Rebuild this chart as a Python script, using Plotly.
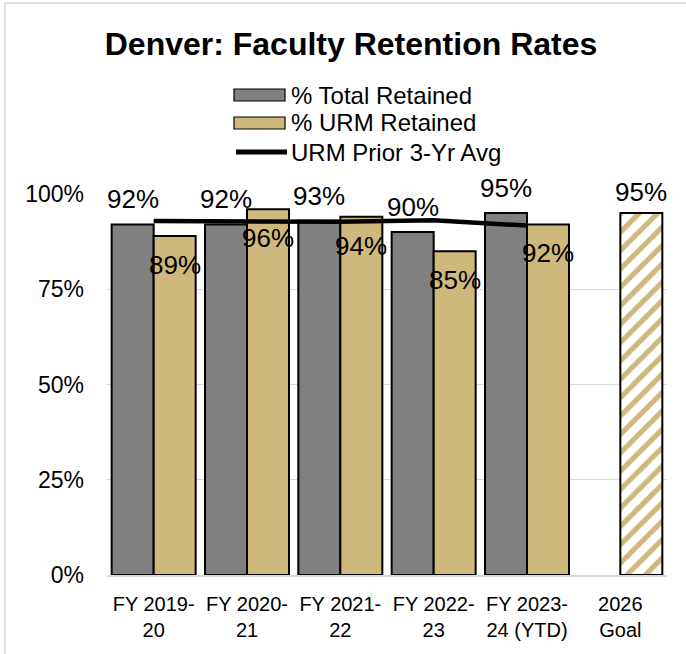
"""Denver faculty retention rates: grouped bars, prior 3-yr avg line, hatched goal bar."""

import plotly.graph_objects as go

CATEGORIES = ["FY 2019-<br>20", "FY 2020-<br>21", "FY 2021-<br>22", "FY 2022-<br>23",
              "FY 2023-<br>24 (YTD)", "2026<br>Goal"]
TOTAL_RETAINED = [92, 92, 93, 90, 95]
URM_RETAINED = [89, 96, 94, 85, 92]
URM_PRIOR_AVG = [92.9, 92.9, 92.7, 93.1, 91.7]
GOAL = [95]

GREY = "#808080"
GOLD = "#CFB87C"
FONT = "Arial, Liberation Sans, sans-serif"

x_years = list(range(len(TOTAL_RETAINED)))
x_goal = [len(TOTAL_RETAINED)]
bar_w = 0.45
outline = dict(color="black", width=2)

fig = go.Figure()
fig.add_trace(go.Bar(x=x_years, y=TOTAL_RETAINED, name="% Total Retained",
                     offset=-bar_w, width=bar_w, marker=dict(color=GREY, line=outline)))
fig.add_trace(go.Bar(x=x_years, y=URM_RETAINED, name="% URM Retained",
                     offset=0, width=bar_w, marker=dict(color=GOLD, line=outline)))
fig.add_trace(go.Bar(x=x_goal, y=GOAL, name="Goal", offset=0, width=bar_w,
                     marker=dict(color="white", line=outline,
                                 pattern=dict(shape="/", fgcolor=GOLD, bgcolor="white",
                                              fgopacity=1, size=13, solidity=0.4))))
fig.add_trace(go.Scatter(x=x_years, y=URM_PRIOR_AVG, name="URM Prior 3-Yr Avg",
                         mode="lines", line=dict(color="black", width=4.5)))

label_font = dict(family=FONT, size=26, color="black")
for i, v in enumerate(TOTAL_RETAINED):
    fig.add_annotation(x=i - bar_w / 2, y=v, text=f"{v}%", showarrow=False,
                       yanchor="middle", yshift=25, font=label_font)
for i, v in enumerate(URM_RETAINED):
    fig.add_annotation(x=i + bar_w / 2, y=v, text=f"{v}%", showarrow=False,
                       yanchor="middle", yshift=-29, font=label_font)
for i, v in zip(x_goal, GOAL):
    fig.add_annotation(x=i + bar_w / 2, y=v, text=f"{v}%", showarrow=False,
                       yanchor="middle", yshift=21, font=label_font)

# hand-drawn legend (wide swatches like the original)
legend_items = [("% Total Retained", GREY, 95), ("% URM Retained", GOLD, 123)]
W, H = 686, 654
L, R, T, B = 107, 19, 194, 79
pw, ph = W - L - R, H - T - B


def px(x):
    return (x - L) / pw


def py(y):
    return (H - B - y) / ph


shapes = []
for text, color, yc in legend_items:
    shapes.append(dict(type="rect", xref="paper", yref="paper",
                       x0=px(234), x1=px(285), y0=py(yc + 6), y1=py(yc - 6),
                       fillcolor=color, line=dict(color="black", width=1.2)))
    fig.add_annotation(xref="paper", yref="paper", x=px(289), y=py(yc), text=text,
                       showarrow=False, xanchor="left", yanchor="middle",
                       font=dict(family=FONT, size=24, color="black"))
shapes.append(dict(type="line", xref="paper", yref="paper",
                   x0=px(236), x1=px(287), y0=py(152), y1=py(152),
                   line=dict(color="black", width=5)))
fig.add_annotation(xref="paper", yref="paper", x=px(289), y=py(152),
                   text="URM Prior 3-Yr Avg", showarrow=False, xanchor="left",
                   yanchor="middle", font=dict(family=FONT, size=24, color="black"))
# light frame around the chart
shapes.append(dict(type="rect", xref="paper", yref="paper", layer="below",
                   x0=px(5), x1=px(700), y0=py(665), y1=py(3),
                   line=dict(color="#d9d9d9", width=1.5)))

fig.update_layout(
    width=W, height=H,
    margin=dict(l=L, r=R, t=T, b=B, autoexpand=False),
    paper_bgcolor="white", plot_bgcolor="white",
    barmode="overlay", showlegend=False,
    title=dict(text="<b>Denver: Faculty Retention Rates</b>", x=351 / W, xref="container",
               y=1 - 44 / H, yref="container", xanchor="center", yanchor="middle",
               font=dict(family=FONT, size=32, color="black")),
    font=dict(family=FONT, color="black"),
    shapes=shapes,
)
fig.update_xaxes(range=[-0.5, 5.5], tickmode="array", tickvals=list(range(6)),
                 ticktext=CATEGORIES, showgrid=False, zeroline=False,
                 showline=True, linecolor="#d9d9d9", linewidth=1.5, automargin=False,
                 tickfont=dict(size=20, color="black"), ticks="", ticklabelstandoff=10)
fig.update_yaxes(range=[0, 100], dtick=25, ticksuffix="%", showgrid=True,
                 gridcolor="#d9d9d9", gridwidth=1.2, zeroline=False, automargin=False,
                 tickfont=dict(size=23, color="black"), ticks="", ticklabelstandoff=22)

# drop the browser's default body margin so the figure sits at the window origin
fig.write_html("out.html", config={"displayModeBar": False},
               post_script="document.body.style.margin='0';")
